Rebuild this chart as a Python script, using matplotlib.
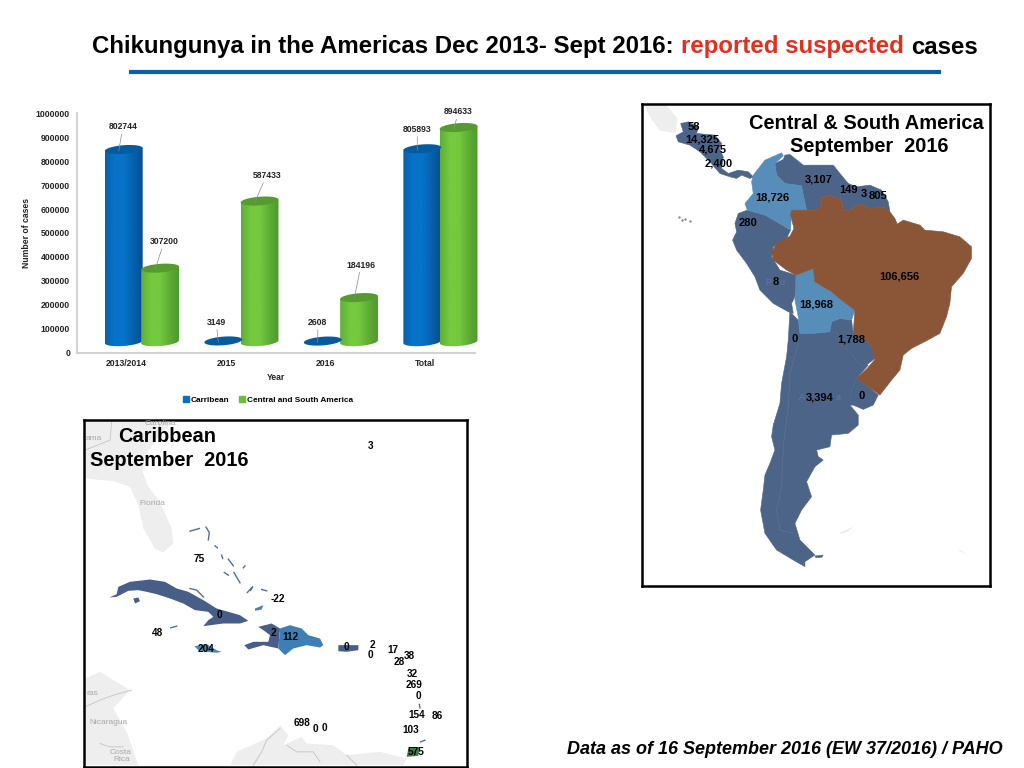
import numpy as np
import matplotlib
matplotlib.use('Agg')
import matplotlib.pyplot as plt
from matplotlib.patches import Polygon, Patch

plt.rcParams['font.family'] = ['Liberation Sans', 'DejaVu Sans']

# bar chart data
years = ['2013/2014', '2015', '2016', 'Total']
carribean = [802744, 3149, 2608, 805893]
central_south = [307200, 587433, 184196, 894633]
y_ticks = [0, 100000, 200000, 300000, 400000, 500000, 600000, 700000, 800000, 900000, 1000000]
label_offsets_blue = [(4, 24), (-2, 20), (0, 20), (0, 21)]
label_offsets_green = [(9, 28), (12, 27), (7, 34), (5, 17)]

# south america map, outlines
sa_title = ['Central & South America', 'September  2016']
brazil = [(605,300),(610,330),(630,330),(660,310),(690,325),(730,320),(750,335),(765,355),(772,372),(790,360),(840,375),(855,390),(910,395),(960,410),(995,440),(995,475),(970,520),(935,560),(930,610),(920,650),(900,700),(860,722),(815,745),(790,765),(780,810),(755,840),(720,885),(685,860),(650,835),(682,805),(705,778),(690,730),(640,700),(645,630),(605,600),(575,575),(525,545),(520,505),(468,525),(440,510),(400,480),(395,455),(410,430),(450,408),(462,385),(452,345),(455,330),(500,330),(530,330),(545,315),(540,295),(570,285)]
colombia = [(340,225),(375,180),(425,158),(430,167),(405,190),(410,225),(435,250),(485,257),(490,285),(500,330),(455,330),(452,390),(410,365),(375,345),(322,330),(315,310),(340,280),(335,245)]
venezuela = [(435,165),(450,163),(490,195),(530,195),(580,195),(600,220),(625,250),(600,280),(605,300),(570,285),(540,295),(545,315),(530,330),(500,330),(490,285),(485,257),(435,250),(410,225),(405,190),(430,178)]
guianas = [(625,250),(650,260),(690,255),(725,270),(745,305),(750,335),(730,320),(690,325),(660,310),(630,330),(610,330),(605,300),(600,280)]
peru_ecuador = [(295,340),(322,330),(375,345),(410,365),(452,390),(440,415),(400,440),(395,470),(420,510),(468,525),(470,555),(465,590),(455,610),(460,640),(445,635),(400,610),(360,570),(345,530),(320,490),(290,450),(278,420),(290,395),(285,370)]
bolivia = [(468,525),(520,505),(525,545),(575,575),(605,600),(645,630),(635,660),(600,655),(575,665),(570,695),(520,700),(480,700),(475,650),(465,600)]
paraguay = [(570,695),(575,665),(600,655),(635,660),(640,700),(690,730),(705,775),(680,795),(660,795),(635,760),(595,730),(595,700)]
argentina_chile = [(450,635),(475,660),(480,700),(520,700),(570,695),(595,700),(595,730),(635,760),(660,795),(685,795),(650,835),(635,870),(630,915),(655,945),(655,975),(625,1000),(575,1005),(570,1040),(530,1050),(535,1070),(550,1080),(525,1100),(500,1145),(515,1190),(485,1230),(465,1270),(480,1320),(525,1365),(495,1385),(495,1400),(460,1380),(410,1350),(375,1300),(362,1230),(370,1170),(375,1125),(390,1090),(405,1050),(395,1010),(400,975),(420,910),(425,850),(440,770),(445,720)]
uruguay = [(650,835),(685,860),(715,885),(700,915),(670,928),(640,915),(630,915),(635,870)]
central_america = [(122,70),(145,65),(175,80),(170,100),(225,105),(245,130),(238,145),(250,170),(245,205),(265,220),(295,210),(325,215),(340,230),(330,235),(305,225),(290,235),(270,230),(240,220),(210,185),(180,155),(150,135),(115,125),(108,107),(130,95)]
mexico = [(12,15),(80,15),(112,55),(108,98),(60,92),(30,50)]
falklands = [(525,1368),(550,1365),(545,1372),(528,1373)]
georgia = [(598,1298),(640,1280),(625,1295),(605,1302)]
south_isle = [(952,1348),(978,1365),(968,1352)]
galapagos_x = [118, 125, 135, 150]
galapagos_y = [352, 360, 358, 362]
chile_border_x = [475, 450, 445, 430, 425, 410, 420, 460]
chile_border_y = [730, 820, 920, 1040, 1160, 1230, 1290, 1300]
sa_labels = ['58', '14,325', '4,675', '2,400', '3,107', '18,726', '149', '3', '805', '280', '8', '106,656', '18,968', '0', '1,788', '3,394', '0']
sa_label_x = [163, 188, 218, 235, 537, 397, 625, 671, 713, 325, 407, 779, 528, 464, 633, 539, 666]
sa_label_y = [80, 117, 149, 190, 239, 291, 269, 283, 288, 368, 547, 530, 612, 718, 717, 893, 889]
# what stays visible of the base map names behind the numbers
sa_faint = ['P', 'u', 'A', 'a']
sa_faint_x = [385, 427, 487, 596]
sa_faint_y = [547, 547, 893, 893]

# caribbean map
car_title = ['Caribbean', 'September  2016']
us_south = [(15,15),(285,15),(240,60),(195,120),(188,170),(205,215),(240,260),(275,340),(280,385),(250,412),(225,400),(190,340),(175,270),(150,215),(100,198),(15,190)]
central_am_grey = [(15,790),(60,770),(150,825),(100,880),(140,950),(175,1050),(15,1050)]
south_am_grey = [(450,1050),(470,1010),(560,970),(600,930),(625,960),(610,990),(665,965),(680,985),(760,990),(800,1020),(900,1010),(980,1030),(970,1050)]
cuba = [(88,547),(110,537),(115,515),(150,500),(210,493),(255,500),(290,520),(325,530),(370,555),(410,580),(445,590),(480,600),(505,617),(480,625),(430,625),(370,633),(385,615),(400,605),(385,590),(345,585),(310,565),(270,550),(230,537),(200,530),(175,525),(145,527),(110,545)]
isla_juventud = [(160,550),(175,547),(180,558),(165,565)]
haiti = [(535,635),(575,625),(600,640),(595,700),(550,690),(505,703),(493,690),(520,680),(565,680),(570,660),(550,645)]
dominican = [(600,640),(630,630),(665,640),(685,660),(720,670),(730,690),(720,697),(680,690),(640,700),(615,720),(605,710),(595,700)]
jamaica = [(343,693),(380,687),(410,705),(425,710),(410,713),(380,710),(355,705)]
puerto_rico = [(775,690),(835,690),(835,705),(800,710),(775,708)]
trinidad = [(985,1000),(1020,995),(1015,1022),(980,1025)]
inagua = [(525,580),(550,570),(545,583),(525,587)]
bahamas_x = [[330, 358], [378, 388, 385], [405, 412], [425, 428], [445, 460], [433, 445], [462, 480], [502, 518, 512], [545, 560], [490, 495], [1022, 1035], [1018, 1020], [330, 350, 370], [272, 290]]
bahamas_y = [[348, 340], [336, 352, 374], [392, 398], [420, 430], [432, 452], [472, 480], [472, 503], [532, 515, 525], [523, 527], [458, 452], [980, 975], [868, 878], [520, 525, 545], [638, 633]]
grey_lines_x = [[15, 60, 100, 155], [60, 90, 130], [600, 560, 545, 520], [620, 650, 700, 720], [800, 830], [15, 90, 95], [235, 245]]
grey_lines_y = [[875, 855, 840, 825], [985, 995, 995], [940, 975, 1010, 1050], [990, 1010, 1010, 1040], [1020, 1050], [105, 75, 20], [15, 65]]
car_labels = ['3', '75', '-22', '0', '48', '2', '112', '204', '0', '2', '0', '17', '38', '28', '32', '269', '0', '154', '86', '698', '0', '0', '103', '575']
car_label_x = [871, 359, 595, 418, 231, 579, 631, 377, 798, 878, 870, 939, 987, 957, 996, 1003, 1015, 1010, 1072, 666, 705, 734, 991, 1008]
car_label_y = [92, 431, 550, 600, 652, 654, 665, 701, 696, 688, 718, 704, 722, 741, 777, 810, 842, 899, 903, 925, 941, 939, 944, 1010]
grey_names = ['Florida', 'Nicaragua', 'Costa', 'Rica', 'ras', 'ama', 'Carolina']
grey_x = [218, 84, 122, 124, 36, 40, 240]
grey_y = [266, 921, 1011, 1033, 835, 71, 24]

fig = plt.figure(figsize=(10.24, 7.68), dpi=100)
W, H = 1024.0, 768.0


def px_axes(left, top, right, bottom):
    return fig.add_axes([left / W, 1 - bottom / H, (right - left) / W, (bottom - top) / H])


# page level things: title, rule, footer
page = px_axes(0, 0, 1024, 768)
page.set_xlim(0, 1024)
page.set_ylim(768, 0)
page.axis('off')
page.text(92, 47, 'Chikungunya in the Americas Dec 2013- Sept 2016:', fontsize=17.25, fontweight='bold', va='center')
page.text(681, 47, 'reported suspected', fontsize=17.25, fontweight='bold', color='#e1301e', va='center')
page.text(911, 47, 'cases', fontsize=17.25, fontweight='bold', va='center')
page.plot([129, 941], [72, 72], color='#0b5ea8', lw=3, solid_capstyle='butt')
page.text(567, 749, 'Data as of 16 September 2016 (EW 37/2016) / PAHO', fontsize=13, fontweight='bold', style='italic', va='center')

# cylinder bars
ax = px_axes(77, 113.3, 475, 352.7)
ax.set_xlim(0, 4)
ax.set_ylim(0, 1000000)
ax.patch.set_alpha(0)
for s in ['top', 'right']:
    ax.spines[s].set_visible(False)
for s in ['left', 'bottom']:
    ax.spines[s].set_color('#d4d4d4')
    ax.spines[s].set_linewidth(1.5)
ax.set_yticks(y_ticks)
ax.set_yticklabels([str(v) for v in y_ticks], fontsize=6.2, fontweight='bold', color='#222222')
ax.set_xticks([i + 0.5 for i in range(4)])
ax.set_xticklabels(years, fontsize=6.2, fontweight='bold', color='#222222')
ax.tick_params(length=0, pad=5)
ax.tick_params(axis='x', pad=4.5)
ax.set_xlabel('Year', fontsize=6.2, fontweight='bold', color='#222222')
ax.set_ylabel('Number of cases', fontsize=6.2, fontweight='bold', color='#222222')
ax.xaxis.set_label_coords(0.5, -0.083)
ax.yaxis.set_label_coords(-0.116, 0.5)

base = 46000
bar_w = 0.38
cap_h = 18000
tilt = 6000
t = np.linspace(0, 2 * np.pi, 80)


def cylinder(cx, value, dark, mid, light, cap):
    top = base + value
    half = np.linspace(np.pi, 2 * np.pi, 40)
    xs = cx + bar_w / 2 * np.cos(t)
    cap_y = cap_h * np.sin(t) + tilt * np.cos(t)
    if value > 10000:
        # outline of the body with the rounded foot, used to clip the shading
        arc_x = cx + bar_w / 2 * np.cos(half)
        arc_y = base + cap_h * np.sin(half) + tilt * np.cos(half)
        outline = np.column_stack([np.r_[arc_x, cx + bar_w / 2, cx - bar_w / 2],
                                   np.r_[arc_y, top + tilt, top - tilt]])
        clip = Polygon(outline, closed=True, transform=ax.transData, fc='none', ec='none', clip_on=False)
        ax.add_patch(clip)
        cmap = matplotlib.colors.LinearSegmentedColormap.from_list('c', [mid, light, light, mid, dark])
        grad = np.linspace(0, 1, 64).reshape(1, -1)
        im = ax.imshow(grad, cmap=cmap, aspect='auto', zorder=2,
                       extent=(cx - bar_w / 2, cx + bar_w / 2, base - cap_h - tilt, top + tilt))
        im.set_clip_path(clip)
        im.set_clip_box(fig.bbox)
    ax.fill(xs, top + cap_y, color=cap, zorder=3, lw=0, clip_on=False)


for i in range(4):
    c = i + 0.5
    cylinder(c - 0.03, carribean[i], '#04508f', '#0662ab', '#0673c9', '#045c9f')
    cylinder(c + 0.335, central_south[i], '#4f9a2c', '#5fae35', '#74c93e', '#559b2f')
    ax.annotate(str(carribean[i]), xy=(c - 0.08, base + carribean[i] - 6000),
                xytext=label_offsets_blue[i], textcoords='offset pixels', ha='center', va='center',
                fontsize=6.2, fontweight='bold', color='#222222', zorder=5,
                arrowprops=dict(arrowstyle='-', color='#8a8a8a', lw=0.5, shrinkA=0, shrinkB=0))
    ax.annotate(str(central_south[i]), xy=(c + 0.285, base + central_south[i] - 6000),
                xytext=label_offsets_green[i], textcoords='offset pixels', ha='center', va='center',
                fontsize=6.2, fontweight='bold', color='#222222', zorder=5,
                arrowprops=dict(arrowstyle='-', color='#8a8a8a', lw=0.5, shrinkA=0, shrinkB=0))
ax.set_xlim(0, 4)
ax.set_ylim(0, 1000000)

fig.legend(handles=[Patch(color='#0673c0', label='Carribean'), Patch(color='#6abf3a', label='Central and South America')],
           loc='center', bbox_to_anchor=(268 / W, 1 - 400 / H), ncol=2, frameon=False,
           prop=dict(size=5.95, weight='bold'), handlelength=0.7, handleheight=0.7,
           handletextpad=0.3, columnspacing=1.1)

# south america box
slate = '#4d6489'
sky = '#578db9'
sa = px_axes(642, 103.5, 989.5, 586)
sa.set_xlim(6, 1049)
sa.set_ylim(1458, 10)
sa.set_xticks([])
sa.set_yticks([])
for s in sa.spines.values():
    s.set_linewidth(1.8)
for shape, colour in [(mexico, '#eeeeee'), (georgia, '#eeeeee'), (south_isle, '#eeeeee')]:
    sa.add_patch(Polygon(shape, closed=True, fc=colour, ec='none'))
for shape, colour in [(argentina_chile, slate), (uruguay, slate), (paraguay, slate), (falklands, slate),
                      (peru_ecuador, slate), (venezuela, slate), (guianas, slate), (central_america, slate),
                      (colombia, sky), (bolivia, sky), (brazil, '#8b5538')]:
    sa.add_patch(Polygon(shape, closed=True, fc=colour, ec=colour, lw=0.4))
sa.plot(chile_border_x, chile_border_y, color='#5f7190', lw=0.5)
sa.scatter(galapagos_x, galapagos_y, s=3, color='#7f8896', lw=0)
for lab, x, y in zip(sa_faint, sa_faint_x, sa_faint_y):
    sa.text(x, y, lab, fontsize=6.5, color='#5f789f', ha='center', va='center')
for lab, x, y in zip(sa_labels, sa_label_x, sa_label_y):
    sa.text(x, y, lab, fontsize=8, fontweight='bold', ha='center', va='center')
sa.text(679, 69, sa_title[0], fontsize=14.4, fontweight='bold', ha='center', va='center')
sa.text(687, 140, sa_title[1], fontsize=14.4, fontweight='bold', ha='center', va='center')

# caribbean box
car = px_axes(84, 419.5, 467, 766.5)
car.set_xlim(12, 1161)
car.set_ylim(1054, 13)
car.set_xticks([])
car.set_yticks([])
for s in car.spines.values():
    s.set_linewidth(1.8)
for shape in [us_south, central_am_grey, south_am_grey]:
    car.add_patch(Polygon(shape, closed=True, fc='#eeeeee', ec='none'))
for xs, ys in zip(grey_lines_x, grey_lines_y):
    car.plot(xs, ys, color='#c4c4c4', lw=0.6)
for lab, x, y in zip(grey_names, grey_x, grey_y):
    car.text(x, y, lab, fontsize=6, color='#a8a8a8', ha='center', va='center')
for shape, colour in [(cuba, '#475f88'), (isla_juventud, '#475f88'), (haiti, '#475f88'), (dominican, '#3d7fb5'),
                      (jamaica, '#4f8bb0'), (puerto_rico, '#475f88'), (trinidad, '#3f7d50'), (inagua, '#4f7fa5')]:
    car.add_patch(Polygon(shape, closed=True, fc=colour, ec='none'))
for xs, ys in zip(bahamas_x, bahamas_y):
    car.plot(xs, ys, color='#55708a', lw=1)
for lab, x, y in zip(car_labels, car_label_x, car_label_y):
    car.text(x, y, lab, fontsize=7.2, fontweight='bold', ha='center', va='center')
car.text(261, 64, car_title[0], fontsize=14.4, fontweight='bold', ha='center', va='center')
car.text(267, 135, car_title[1], fontsize=14.4, fontweight='bold', ha='center', va='center')

fig.savefig('out.png', dpi=100)
